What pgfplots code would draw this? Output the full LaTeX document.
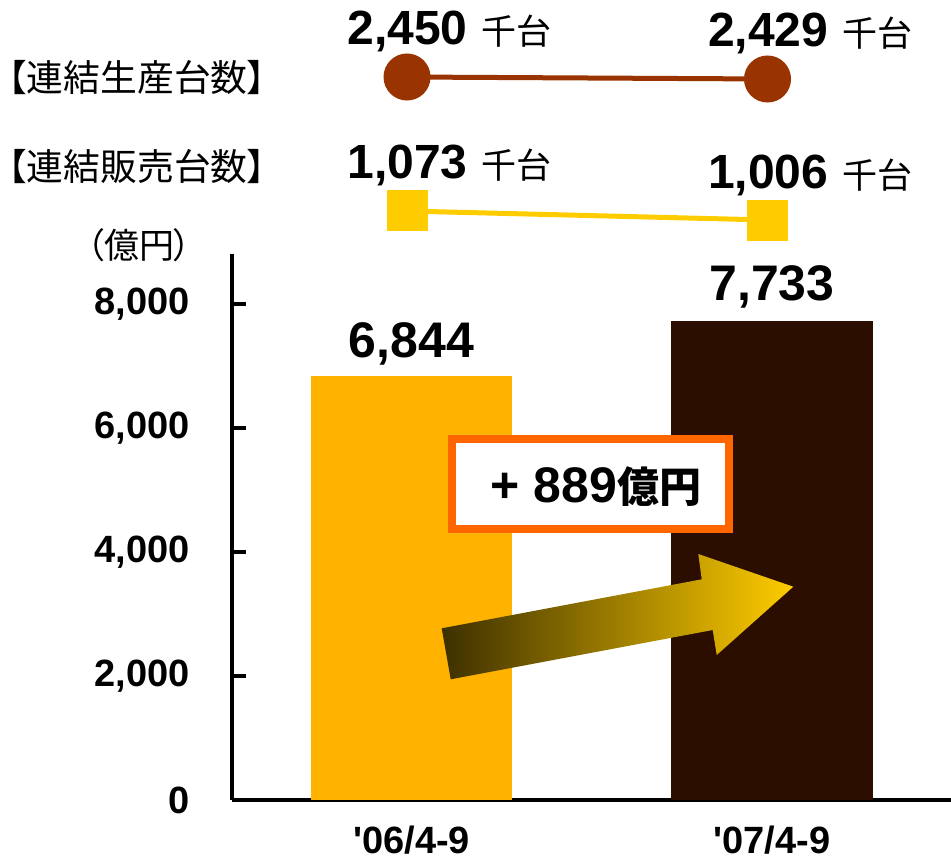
\documentclass[border=0pt]{standalone}
\usepackage{pgfplots}
\pgfplotsset{compat=1.18}
\usepackage{fontspec}
\setmainfont{Liberation Sans}[Ligatures=TeXOff]
\newfontfamily\cjk{Noto Sans CJK JP}
\newfontfamily\cjkp{Noto Sans CJK JP}[RawFeature=+palt]

\definecolor{barA}{RGB}{255,179,0}
\definecolor{barB}{RGB}{43,14,0}
\definecolor{prodc}{RGB}{153,51,0}
\definecolor{salec}{RGB}{255,204,0}
\definecolor{boxc}{RGB}{255,102,0}
\definecolor{arrA}{RGB}{61,48,0}
\definecolor{arrB}{RGB}{255,204,0}

\pgfkeys{/pgf/number format/.cd, fixed, precision=0, 1000 sep={,}, assume math mode=true}

\begin{document}
\begin{tikzpicture}[x=1pt,y=1pt]
\useasboundingbox (0,0) rectangle (475.5,429.5);

% sales (bars)
\begin{axis}[
  at={(116pt,29.5pt)}, anchor=south west,
  scale only axis, width=359.5pt, height=273pt,
  xmin=-0.498, xmax=1.4965, ymin=0, ymax=8806,
  axis x line=bottom, axis y line=left,
  axis line style={line width=2pt, -},
  xtick={0,1}, xticklabels={{'06/4-9},{'07/4-9}},
  ytick={0,2000,4000,6000,8000},
  tick align=inside, major tick length=7pt,
  ytick style={line width=2pt, black},
  xtick style={draw=none},
  tick label style={font=\fontsize{19}{22}\selectfont\bfseries},
  yticklabel style={inner sep=0pt, xshift=-21pt},
  xticklabel style={inner sep=0pt, yshift=-13pt},
  clip=false,
  ]
\addplot[ybar, bar width=0.56, bar shift=0pt, fill=barA, draw=none,
  nodes near coords, every node near coord/.append style={anchor=base, inner sep=0pt, yshift=9pt, font=\fontsize{25}{30}\selectfont\bfseries}]
  coordinates {(0,6844)};
\addplot[ybar, bar width=0.56, bar shift=0pt, fill=barB, draw=none,
  nodes near coords, every node near coord/.append style={anchor=base, inner sep=0pt, yshift=10pt, font=\fontsize{25}{30}\selectfont\bfseries}]
  coordinates {(1,7733)};
\end{axis}

% production units
\begin{axis}[
  at={(113.75pt,379.5pt)}, anchor=south west,
  scale only axis, width=359.5pt, height=20pt, hide axis, clip=false,
  xmin=-0.498, xmax=1.4965, ymin=2208.5, ymax=2628.5,
  ]
\addplot[prodc, line width=2.5pt, mark=*, mark size=10.5pt, mark options={fill=prodc, draw=none},
  nodes near coords={\fontsize{24}{28}\selectfont\bfseries\pgfmathprintnumber{\pgfplotspointmeta}\hspace{7pt}{\cjk\mdseries\fontsize{17.5}{20}\selectfont 千台}},
  every node near coord/.append style={anchor=base west, inner sep=0pt, xshift=-31pt, yshift=16pt, black}]
  coordinates {(0,2450) (1,2429)};
\end{axis}

% sales units
\begin{axis}[
  at={(113.75pt,312pt)}, anchor=south west,
  scale only axis, width=359.5pt, height=20pt, hide axis, clip=false,
  xmin=-0.498, xmax=1.4965, ymin=894.4, ymax=1192,
  ]
\addplot[salec, line width=2.5pt, mark=square*, mark size=9pt, mark options={fill=salec, draw=none},
  nodes near coords={\fontsize{24}{28}\selectfont\bfseries\pgfmathprintnumber{\pgfplotspointmeta}\hspace{7pt}{\cjk\mdseries\fontsize{17.5}{20}\selectfont 千台}},
  every node near coord/.append style={anchor=base west, inner sep=0pt, xshift=-31pt, yshift=16pt, black}]
  coordinates {(0,1073) (1,1006)};
\end{axis}

% row labels and unit
\node[anchor=west, inner sep=0pt] at (4,390.5) {\cjkp\fontsize{18.4}{21}\selectfont 【連結生産台数】};
\node[anchor=west, inner sep=0pt] at (4,346) {\cjkp\fontsize{18.4}{21}\selectfont 【連結販売台数】};
\node[inner sep=0pt] at (69.5,307) {\cjkp\fontsize{17.5}{19}\selectfont （億円）};

% growth arrow
\shade[left color=arrA, right color=arrB]
  (220.85,115.35) -- (350.85,139.85) -- (349.15,152.5) -- (396.65,136.15)
  -- (358.35,102) -- (356.35,114.5) -- (225.35,89.85) -- cycle;

% difference box
\draw[boxc, line width=4pt, fill=white] (226,165) rectangle (364.5,210);
\node[inner sep=0pt] at (297.9,186) {\fontsize{25}{28}\selectfont\bfseries + 889{\cjk\fontsize{21}{24}\selectfont 億円}};
\end{tikzpicture}
\end{document}
